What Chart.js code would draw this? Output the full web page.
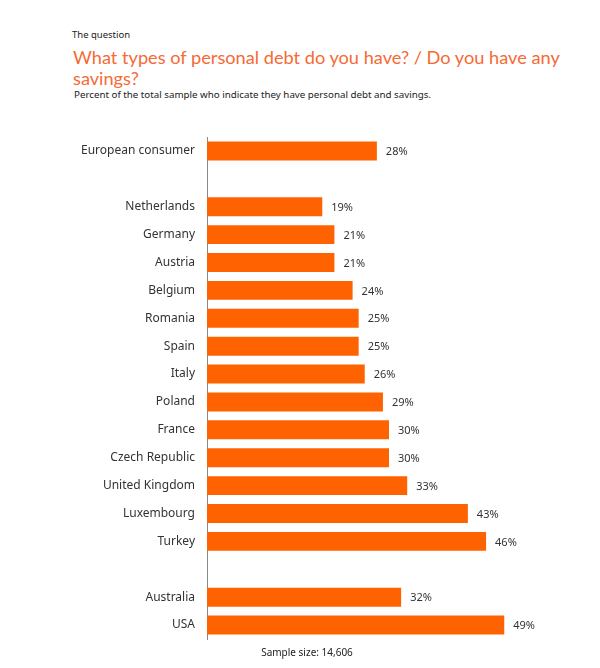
<!DOCTYPE html>
<html>
<head>
<meta charset="utf-8">
<script src="https://cdn.jsdelivr.net/npm/chart.js@4"></script>
<style>
  html, body { margin: 0; padding: 0; background: #fff; }
  body { width: 600px; height: 668px; position: relative; overflow: hidden; font-family: 'Noto Sans', Lato, sans-serif; }
  .txt { position: absolute; white-space: nowrap; }
  #kicker { left: 72px; top: 28px; font-size: 9.5px; line-height: 14px; color: #222; }
  #title { left: 73px; top: 47px; font-family: Lato, sans-serif; font-size: 18.2px; line-height: 21px; color: #F66A35; white-space: normal; width: 500px; }
  #sub { left: 74px; top: 88px; font-size: 9.75px; line-height: 14px; color: #222; }
  #foot { left: 0; width: 614px; text-align: center; top: 645px; font-size: 10px; color: #222; }
  #wrap { position: absolute; left: 0; top: 0; width: 600px; height: 668px; }
</style>
</head>
<body>
<div class="txt" id="kicker">The question</div>
<div class="txt" id="title">What types of personal debt do you have? / Do you have any savings?</div>
<div class="txt" id="sub">Percent of the total sample who indicate they have personal debt and savings.</div>
<div id="wrap"><canvas id="chart"></canvas></div>
<div class="txt" id="foot">Sample size: 14,606</div>
<script>
// rows top to bottom; empty strings are the spacer rows
const categories = ['European consumer', '', 'Netherlands', 'Germany', 'Austria', 'Belgium', 'Romania',
  'Spain', 'Italy', 'Poland', 'France', 'Czech Republic', 'United Kingdom', 'Luxembourg', 'Turkey',
  '', 'Australia', 'USA'];
const values = [28, null, 19, 21, 21, 24, 25, 25, 26, 29, 30, 30, 33, 43, 46, null, 32, 49];
const valueLabels = ['28%', '', '19%', '21%', '21%', '24%', '25%', '25%', '26%', '29%', '30%', '30%',
  '33%', '43%', '46%', '', '32%', '49%'];

const ORANGE = '#FF6200';

// value text just past the end of each bar
const barEndLabels = {
  id: 'barEndLabels',
  afterDatasetsDraw(chart) {
    const { ctx } = chart;
    const meta = chart.getDatasetMeta(0);
    ctx.save();
    ctx.font = '11px "Noto Sans", Lato, sans-serif';
    ctx.fillStyle = '#333';
    ctx.textAlign = 'left';
    ctx.textBaseline = 'middle';
    meta.data.forEach((bar, i) => {
      if (values[i] == null) return;
      ctx.fillText(valueLabels[i], bar.x + 9, bar.y + 1);
    });
    ctx.restore();
  }
};

new Chart(document.getElementById('chart'), {
  type: 'bar',
  data: {
    labels: categories,
    datasets: [{
      data: values,
      backgroundColor: ORANGE,
      borderWidth: 0,
      barPercentage: 0.68,
      categoryPercentage: 1,
    }],
  },
  options: {
    indexAxis: 'y',
    responsive: true,
    maintainAspectRatio: false,
    animation: false,
    layout: { padding: { top: 137, bottom: 29, right: 29, left: 0 } },
    plugins: {
      legend: { display: false },
      tooltip: { enabled: false },
    },
    scales: {
      x: {
        display: false,
        min: 0,
        max: 60,
      },
      y: {
        afterFit: (s) => { s.width = 207; },
        grid: { display: false, drawTicks: false },
        border: { display: true, color: '#8a8a8a', width: 1 },
        ticks: {
          padding: 12,
          color: '#333',
          font: { family: '"Noto Sans", Lato, sans-serif', size: 12 },
        },
      },
    },
  },
  plugins: [barEndLabels],
});
</script>
</body>
</html>
